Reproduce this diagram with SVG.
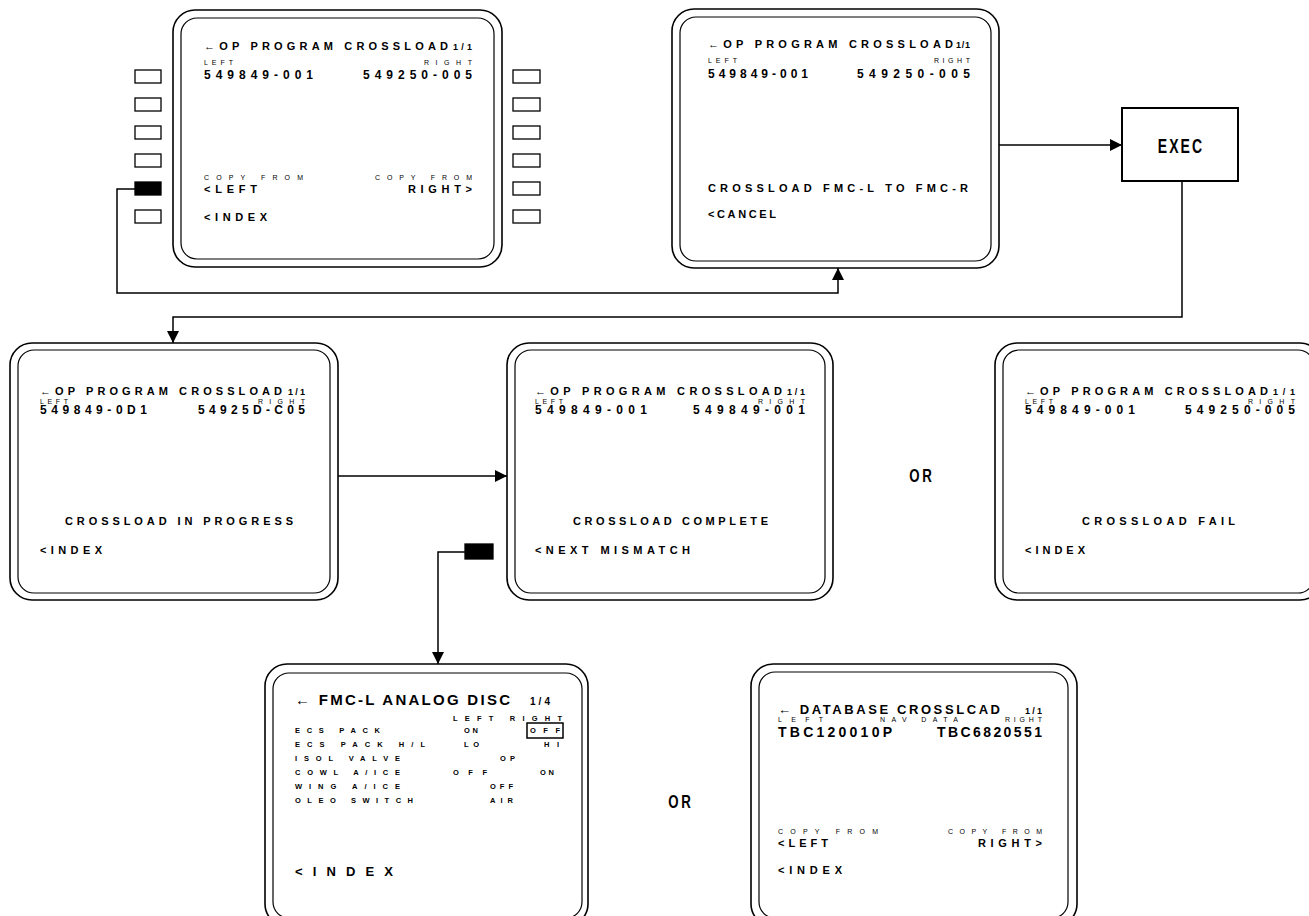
<svg xmlns="http://www.w3.org/2000/svg" width="1309" height="916" viewBox="0 0 1309 916">
<style>
.fo{fill:none;stroke:#000;stroke-width:1.6}
.fi{fill:none;stroke:#000;stroke-width:1.2}
.t{font-family:"Liberation Sans",Arial,sans-serif;font-weight:bold;font-size:11px;fill:#000}
.n{font-size:12px}
.s{font-size:7px;font-weight:normal}
.r{font-size:7.5px}
.k{fill:#fff;stroke:#000;stroke-width:1.3}
.kon{fill:#000;stroke:#000;stroke-width:1.3}
.c{fill:none;stroke:#000;stroke-width:1.5}
.big{font-size:19px;letter-spacing:4px}
</style>
<defs>
<marker id="ah" viewBox="0 0 12 12" refX="12" refY="6" markerWidth="12" markerHeight="12" markerUnits="userSpaceOnUse" orient="auto"><path d="M0,0 L12,6 L0,12 z" fill="#000"/></marker>
</defs>
<rect width="1309" height="916" fill="#fff"/>

<g id="connectors">
<path class="c" d="M135,189 H117 V293 H838 V268" marker-end="url(#ah)"/>
<path class="c" d="M999,145 H1122" marker-end="url(#ah)"/>
<path class="c" d="M1182,181 V317 H173 V343" marker-end="url(#ah)"/>
<path class="c" d="M338,476 H507" marker-end="url(#ah)"/>
<path class="c" d="M465,552 H438 V664" marker-end="url(#ah)"/>
</g>

<g id="screen-select">
<rect class="fo" x="173" y="10" width="329" height="257" rx="22"/>
<rect class="fi" x="181" y="18" width="313" height="241" rx="16"/>
<g id="lsk-left">
<rect class="k" x="135" y="70" width="26" height="13"/>
<rect class="k" x="135" y="98" width="26" height="13"/>
<rect class="k" x="135" y="126" width="26" height="13"/>
<rect class="k" x="135" y="154" width="26" height="13"/>
<rect class="kon" x="135" y="182" width="26" height="13"/>
<rect class="k" x="135" y="210" width="26" height="13"/>
</g>
<g id="lsk-right">
<rect class="k" x="513" y="70" width="27" height="13"/>
<rect class="k" x="513" y="98" width="27" height="13"/>
<rect class="k" x="513" y="126" width="27" height="13"/>
<rect class="k" x="513" y="154" width="27" height="13"/>
<rect class="k" x="513" y="182" width="27" height="13"/>
<rect class="k" x="513" y="210" width="27" height="13"/>
</g>
<text class="t" x="204" y="50" textLength="244">←OP PROGRAM CROSSLOAD</text>
<text class="t" x="453" y="50" textLength="19" style="font-size:9px">1/1</text>
<text class="t s" x="204" y="65" textLength="29">LEFT</text>
<text class="t s" x="424" y="65" textLength="48">RIGHT</text>
<text class="t n" x="204" y="79" textLength="109">549849-001</text>
<text class="t n" x="363" y="79" textLength="109">549250-005</text>
<text class="t s" x="204" y="180" textLength="99">COPY FROM</text>
<text class="t s" x="375" y="180" textLength="97">COPY FROM</text>
<text class="t" x="204" y="193" textLength="53">&lt;LEFT</text>
<text class="t" x="408" y="193" textLength="64">RIGHT&gt;</text>
<text class="t" x="204" y="221" textLength="63">&lt;INDEX</text>
</g>

<g id="screen-confirm">
<rect class="fo" x="672" y="9" width="327" height="259" rx="22"/>
<rect class="fi" x="680" y="17" width="311" height="244" rx="16"/>
<text class="t" x="708" y="48" textLength="245">←OP PROGRAM CROSSLOAD</text>
<text class="t" x="956" y="48" textLength="14" style="font-size:9px">1/1</text>
<text class="t s" x="708" y="63" textLength="29">LEFT</text>
<text class="t s" x="934" y="63" textLength="36">RIGHT</text>
<text class="t n" x="708" y="78" textLength="100">549849-001</text>
<text class="t n" x="857" y="78" textLength="113">549250-005</text>
<text class="t" x="708" y="192" textLength="260">CROSSLOAD FMC-L TO FMC-R</text>
<text class="t" x="708" y="218" textLength="68">&lt;CANCEL</text>
</g>

<g id="exec">
<rect x="1122" y="108" width="116" height="73" fill="#fff" stroke="#000" stroke-width="2"/>
<text class="t big" transform="translate(1181,153) scale(0.7,1)" text-anchor="middle" style="font-size:20px;letter-spacing:3px">EXEC</text>
</g>

<g id="screen-progress">
<rect class="fo" x="10" y="343" width="328" height="257" rx="22"/>
<rect class="fi" x="18" y="350" width="312" height="243" rx="16"/>
<text class="t" x="40" y="395" textLength="242">←OP PROGRAM CROSSLOAD</text>
<text class="t" x="288" y="395" textLength="17" style="font-size:9px">1/1</text>
<text class="t s" x="40" y="404" textLength="28">LEFT</text>
<text class="t s" x="258" y="404" textLength="47">RIGHT</text>
<text class="t n" x="40" y="414" textLength="107">549849-0D1</text>
<text class="t n" x="198" y="414" textLength="107">54925D-C05</text>
<text class="t" x="65" y="525" textLength="228">CROSSLOAD IN PROGRESS</text>
<text class="t" x="40" y="554" textLength="62">&lt;INDEX</text>
</g>

<g id="screen-complete">
<rect class="fo" x="507" y="343" width="326" height="257" rx="22"/>
<rect class="fi" x="515" y="350" width="310" height="243" rx="16"/>
<text class="t" x="535" y="395" textLength="247">←OP PROGRAM CROSSLOAD</text>
<text class="t" x="787" y="395" textLength="18" style="font-size:9px">1/1</text>
<text class="t s" x="535" y="404" textLength="28">LEFT</text>
<text class="t s" x="758" y="404" textLength="47">RIGHT</text>
<text class="t n" x="535" y="414" textLength="112">549849-001</text>
<text class="t n" x="693" y="414" textLength="112">549849-001</text>
<text class="t" x="573" y="525" textLength="195">CROSSLOAD COMPLETE</text>
<text class="t" x="535" y="554" textLength="155">&lt;NEXT MISMATCH</text>
<rect class="kon" x="465" y="544" width="28" height="15"/>
</g>

<g id="screen-fail">
<rect class="fo" x="995" y="343" width="327" height="257" rx="22"/>
<rect class="fi" x="1003" y="350" width="311" height="243" rx="16"/>
<text class="t" x="1025" y="395" textLength="243">←OP PROGRAM CROSSLOAD</text>
<text class="t" x="1273" y="395" textLength="22" style="font-size:9px">1/1</text>
<text class="t s" x="1025" y="404" textLength="28">LEFT</text>
<text class="t s" x="1248" y="404" textLength="47">RIGHT</text>
<text class="t n" x="1025" y="414" textLength="110">549849-001</text>
<text class="t n" x="1185" y="414" textLength="110">549250-005</text>
<text class="t" x="1082" y="525" textLength="153">CROSSLOAD FAIL</text>
<text class="t" x="1025" y="554" textLength="60">&lt;INDEX</text>
</g>

<text id="or-1" class="t big" transform="translate(922,482) scale(0.7,1)" text-anchor="middle">OR</text>
<text id="or-2" class="t big" transform="translate(681,808) scale(0.7,1)" text-anchor="middle">OR</text>

<g id="screen-analog">
<rect class="fo" x="265" y="664" width="323" height="262" rx="22"/>
<rect class="fi" x="273" y="673" width="309" height="245" rx="16"/>
<text class="t" x="295" y="705" textLength="215" style="font-size:15px">← FMC-L ANALOG DISC</text>
<text class="t" x="530" y="705" textLength="20" style="font-size:10px">1/4</text>
<text class="t r" x="453" y="721" textLength="109">LEFT RIGHT</text>
<text class="t r" x="295" y="733" textLength="85">ECS PACK</text>
<text class="t r" x="464" y="733" textLength="14">ON</text>
<text class="t r" x="530" y="733" textLength="30">OFF</text>
<rect x="527" y="723" width="36" height="15" fill="none" stroke="#000" stroke-width="1.5"/>
<text class="t r" x="295" y="747" textLength="130">ECS PACK H/L</text>
<text class="t r" x="464" y="747" textLength="15">LO</text>
<text class="t r" x="544" y="747" textLength="15">HI</text>
<text class="t r" x="295" y="761" textLength="105">ISOL VALVE</text>
<text class="t r" x="500" y="761" textLength="15">OP</text>
<text class="t r" x="295" y="775" textLength="105">COWL A/ICE</text>
<text class="t r" x="453" y="775" textLength="34">OFF</text>
<text class="t r" x="540" y="775" textLength="14">ON</text>
<text class="t r" x="295" y="789" textLength="105">WING A/ICE</text>
<text class="t r" x="490" y="789" textLength="23">OFF</text>
<text class="t r" x="295" y="803" textLength="118">OLEO SWITCH</text>
<text class="t r" x="490" y="803" textLength="23">AIR</text>
<text class="t" x="295" y="876" textLength="98" style="font-size:13px">&lt;INDEX</text>
</g>

<g id="screen-database">
<rect class="fo" x="751" y="664" width="326" height="262" rx="22"/>
<rect class="fi" x="759" y="672" width="309" height="246" rx="16"/>
<text class="t" x="778" y="714" textLength="222" style="font-size:13px">← DATABASE CROSSLCAD</text>
<text class="t" x="1025" y="714" textLength="17" style="font-size:9px">1/1</text>
<text class="t s" x="778" y="722" textLength="45">LEFT</text>
<text class="t s" x="880" y="722" textLength="78">NAV DATA</text>
<text class="t s" x="1005" y="722" textLength="37">RIGHT</text>
<text class="t" x="778" y="737" textLength="114" style="font-size:14px">TBC120010P</text>
<text class="t" x="937" y="737" textLength="105" style="font-size:14px">TBC6820551</text>
<text class="t s" x="778" y="834" textLength="100">COPY FROM</text>
<text class="t s" x="948" y="834" textLength="94">COPY FROM</text>
<text class="t" x="778" y="847" textLength="50">&lt;LEFT</text>
<text class="t" x="978" y="847" textLength="64">RIGHT&gt;</text>
<text class="t" x="778" y="874" textLength="64">&lt;INDEX</text>
</g>
</svg>
